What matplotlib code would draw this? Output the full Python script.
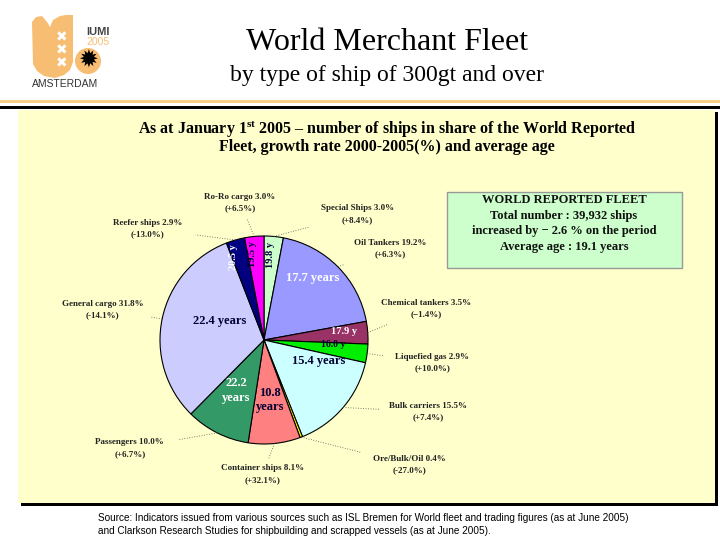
import numpy as np
import matplotlib.pyplot as plt
from matplotlib.patches import Rectangle, Circle, Polygon

# ---- data ----
ships = ['Special Ships', 'Oil Tankers', 'Chemical tankers', 'Liquefied gas',
         'Bulk carriers', 'Ore/Bulk/Oil', 'Container ships', 'Passengers',
         'General cargo', 'Reefer ships', 'Ro-Ro cargo']
share = [3.0, 19.2, 3.5, 2.9, 15.5, 0.4, 8.1, 10.0, 31.8, 2.9, 3.0]
growth = ['+8.4%', '+6.3%', '\u22121.4%', '+10.0%', '+7.4%', '-27.0%',
          '+32.1%', '+6.7%', '-14.1%', '-13.0%', '+6.5%']
age = [19.8, 17.7, 17.9, 16.0, 15.4, None, 10.8, 22.2, 22.4, 20.5, 19.5]

colors = ['#ccffcc', '#9999ff', '#993366', '#00ee00', '#ccffff', '#ffff00',
          '#ff8080', '#339966', '#ccccff', '#000080', '#ff00ff']

# age label style: format, radius frac, angle offset, rotation, colour, size
age_fmt = ['{} y', '{} years', '{} y', '{} y', '{} years', None,
           '{}\nyears', '{}\nyears', '{} years', '{} y', '{} y']
age_r = [0.82, 0.76, 0.77, 0.67, 0.56, 0, 0.58, 0.55, 0.46, 0.85, 0.83]
age_off = [1, 7, 2, 4, 19, 0, 0, -2, -11, 4, 2]
age_rot = [90, 0, 0, 0, 0, 0, 0, 0, 0, 90, 90]
age_col = ['#000033', 'white', 'white', '#000033', '#000033', 'k',
           '#000033', 'white', '#000033', 'white', '#000033']
age_fs = [7.5, 9, 7.5, 7, 9, 0, 9, 9, 9, 7.5, 7.5]

# outer label positions, in pie radii from the centre
lab_xy = [(0.90, 1.21), (1.21, 0.88), (1.56, 0.30), (1.62, -0.22),
          (1.58, -0.69), (1.40, -1.20), (-0.01, -1.29), (-1.29, -1.04),
          (-1.55, 0.29), (-1.12, 1.07), (-0.23, 1.32)]

W, H = 720, 540
cx, cy, R = 264, H - 340, 104

plt.rcParams['font.family'] = ['Liberation Serif', 'DejaVu Serif']
plt.rcParams['mathtext.fontset'] = 'custom'
plt.rcParams['mathtext.bf'] = 'Liberation Serif:bold'
plt.rcParams['mathtext.rm'] = 'Liberation Serif'

fig = plt.figure(figsize=(7.2, 5.4), dpi=100)
ax = fig.add_axes([0, 0, 1, 1])
ax.set_xlim(0, W)
ax.set_ylim(0, H)
ax.axis('off')

def Y(y):
    return H - y

# ---- header ----
ax.add_patch(Rectangle((0, Y(103)), W, 3, color='#f6cf8a', lw=0))
ax.add_patch(Rectangle((0, Y(109)), W, 3.5, color='black', lw=0))

# logo (rough sketch)
orange = '#f7bd73'
shape = [(32, 22), (36, 17), (42, 16), (47, 22), (50, 27), (53, 20),
         (60, 16), (66, 15), (73, 15), (73, 62), (70, 70), (64, 75),
         (55, 78), (44, 76), (37, 71), (33, 64)]
ax.add_patch(Polygon([(x, Y(y)) for x, y in shape], color=orange, lw=0))
for yy in (37, 50, 63):
    ax.text(62, Y(yy), '\u2716', color='white', fontsize=10, ha='center',
            va='center', family='DejaVu Sans')
ax.text(98, Y(32), 'IUMI', color='#444444', fontsize=8, ha='center',
        va='center', family='Liberation Sans', weight='bold')
ax.text(98, Y(42), '2005', color=orange, fontsize=7.5, ha='center',
        va='center', family='Liberation Sans')
ax.add_patch(Circle((88, Y(61)), 13, color=orange, lw=0))
ax.text(88, Y(61), '\u2739', color='black', fontsize=17, ha='center',
        va='center', family='DejaVu Sans')
ax.text(65, Y(84), 'AMSTERDAM', color='#333333', fontsize=7.5, ha='center',
        va='center', family='Liberation Sans')

ax.text(387, Y(42), 'World Merchant Fleet', fontsize=23, ha='center', va='center')
ax.text(387, Y(76), 'by type of ship of 300gt and over', fontsize=17,
        ha='center', va='center')

# ---- yellow panel with shadow ----
ax.add_patch(Rectangle((21, Y(506)), 697, 394, color='black', lw=0))
ax.add_patch(Rectangle((18, Y(503)), 697, 393, color='#ffffcc', lw=0))

ax.text(387, Y(129), 'As at January 1$^{\\mathbf{st}}$ 2005 \u2013 number of ships '
        'in share of the World Reported', fontsize=11.5, weight='bold',
        ha='center', va='center')
ax.text(387, Y(147), 'Fleet, growth rate 2000-2005(%) and average age',
        fontsize=11.5, weight='bold', ha='center', va='center')

# info box
ax.add_patch(Rectangle((447, Y(268)), 235, 76, facecolor='#ccffcc',
                       edgecolor='#999999', lw=1))
box_lines = ['WORLD REPORTED FLEET', 'Total number : 39,932 ships',
             'increased by \u2212 2.6 % on the period', 'Average age : 19.1 years']
for i, t in enumerate(box_lines):
    ax.text(564, Y(200 + 15.7 * i), t, fontsize=9, weight='bold',
            ha='center', va='center', color='#111111')

# ---- pie ----
wedges, _ = ax.pie(share, colors=colors, startangle=90, counterclock=False,
                   radius=R, center=(cx, cy),
                   wedgeprops=dict(edgecolor='black', linewidth=0.8))
ax.set_xlim(0, W)
ax.set_ylim(0, H)
ax.set_aspect('auto')

for i, w in enumerate(wedges):
    mid = np.deg2rad((w.theta1 + w.theta2) / 2)
    # age inside
    if age[i] is not None:
        a = mid + np.deg2rad(age_off[i])
        ax.text(cx + age_r[i] * R * np.cos(a), cy + age_r[i] * R * np.sin(a),
                age_fmt[i].format(age[i]), fontsize=age_fs[i], weight='bold',
                color=age_col[i], rotation=age_rot[i], ha='center',
                va='center', linespacing=1.3)
    # outer label
    lx, ly = cx + lab_xy[i][0] * R, cy + lab_xy[i][1] * R
    ax.text(lx, ly, '%s %.1f%%\n(%s)' % (ships[i], share[i], growth[i]),
            fontsize=6.5, weight='bold', ha='center', va='center',
            color='#222222', linespacing=1.6)
    # dotted leader from the wedge edge to the label box
    sx, sy = cx + 1.0 * R * np.cos(mid), cy + 1.0 * R * np.sin(mid)
    ux, uy = sx - lx, sy - ly
    d = np.hypot(ux, uy)
    ux, uy = ux / d, uy / d
    hw, hh = 48, 16
    s = min(hw / max(abs(ux), 1e-6), hh / max(abs(uy), 1e-6))
    if s < d:
        ax.plot([sx, lx + ux * s], [sy, ly + uy * s], color='#555555',
                lw=0.6, ls=(0, (1, 2)))

# ---- source ----
ax.text(98, Y(518), 'Source: Indicators issued from various sources such as ISL Bremen '
        'for World fleet and trading figures (as at June 2005)',
        fontsize=7.2, family='Liberation Sans', va='center')
ax.text(98, Y(531), 'and Clarkson Research Studies for shipbuilding and scrapped '
        'vessels (as at June 2005).', fontsize=7.2, family='Liberation Sans',
        va='center')

fig.savefig('out.png', dpi=100)
